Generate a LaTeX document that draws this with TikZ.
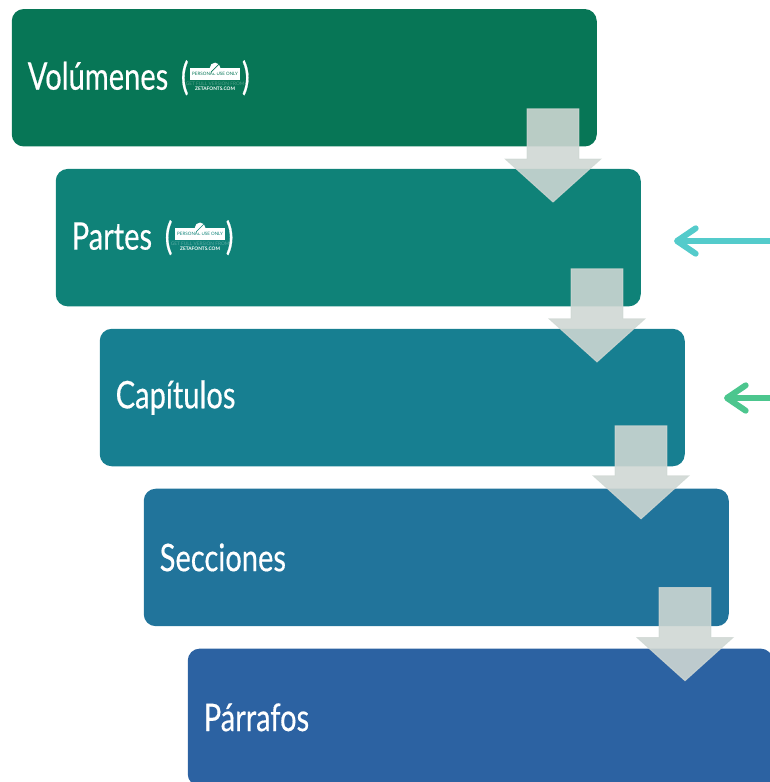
\documentclass[tikz,border=0pt]{standalone}
\usepackage{fontspec}
\setmainfont[FakeStretch=0.765,FakeBold=0.4]{Lato}
\newfontfamily\markfont{Lato}
\usetikzlibrary{positioning}
\usetikzlibrary{shapes.arrows}
\usetikzlibrary{arrows.meta}
\definecolor{volcolor}{RGB}{7,118,86}
\definecolor{parcolor}{RGB}{15,130,120}
\definecolor{capcolor}{RGB}{23,127,145}
\definecolor{seccolor}{RGB}{33,116,155}
\definecolor{prfcolor}{RGB}{44,98,162}
\definecolor{flowcolor}{RGB}{207,215,211}
\definecolor{cyancolor}{RGB}{84,203,203}
\definecolor{greencolor}{RGB}{76,198,142}
\tikzset{stepbox/.style={rectangle,rounded corners=9pt,minimum width=438.75pt,minimum height=103.1pt,inner sep=0pt,
    text width=414.75pt,align=left,text=white,font=\fontsize{28.5}{30}\selectfont},
  flowarrow/.style={single arrow,shape border rotate=270,fill=flowcolor,draw=flowcolor,fill opacity=0.89,draw opacity=0.8,
    line width=0.75pt,minimum width=71.5pt,minimum height=69.75pt,inner xsep=19pt,inner ysep=0pt,single arrow head extend=16.4pt,
    single arrow tip angle=96,anchor=tip},
  sidearrow/.style={line width=4.5pt,-{Straight Barb[length=14pt,width=19pt,round]}},
  markband/.style={fill=white,minimum width=38pt,minimum height=9pt,inner sep=0pt,anchor=north west,
    font=\markfont\fontsize{3.4}{4}\selectfont},
  markline/.style={inner sep=0pt,font=\markfont\fontsize{3.6}{4}\selectfont},
}
\newcommand{\zetamark}[3]{
  \node[markband,text=#3] (#1band) at (#2) {PERSONAL USE ONLY};
  \node[circle,fill=white,minimum size=8pt,inner sep=0pt] (#1sign) at (#1band.north) {};
  \draw[#3,line width=0.5pt] (#1sign.south west) -- (#1sign.north east);
  \node[markline,text=white!30!#3,below = 1.3 of #1band] (#1get) {GET FULL VERSION FROM};
  \node[markline,text=white,below = 0.6 of #1get] (#1zeta) {\bfseries ZETAFONTS.COM};
}

\begin{document}
\begin{tikzpicture}[x=0.75pt,y=0.75pt]
  \useasboundingbox (0,0) rectangle (770,-782);
  \clip (0,0) rectangle (770,-782);
  \node[stepbox,fill=volcolor] (vol) at (304.25,-77.75) {Volúmenes (\hspace{40pt})};
  \node[stepbox,fill=parcolor] (par) [below = 21.9 of vol,xshift=33pt] {Partes (\hspace{40pt})};
  \node[stepbox,fill=capcolor] (cap) [below = 21.9 of par,xshift=33pt] {Capítulos};
  \node[stepbox,fill=seccolor] (sec) [below = 21.9 of cap,xshift=33pt] {Secciones};
  \node[stepbox,fill=prfcolor] (prf) [below = 21.9 of sec,xshift=33pt] {Párrafos};

  \coordinate (volmark) at ([shift={(178,9.75)}]vol.west);
  \coordinate (parmark) at ([shift={(119,9.75)}]par.west);
  \zetamark{vol}{volmark}{volcolor}
  \zetamark{par}{parmark}{parcolor}

  \node[flowarrow] (flow1) at ([shift={(-88,-34)}]par.north east) {};
  \node[flowarrow] (flow2) at ([shift={(-88,-34)}]cap.north east) {};
  \node[flowarrow] (flow3) at ([shift={(-88,-31)}]sec.north east) {};
  \node[flowarrow] (flow4) at ([shift={(-88,-33)}]prf.north east) {};

  \coordinate (cyanstart) at (772,-241);
  \coordinate (cyanend) at (674,-241);
  \coordinate (greenstart) at (772,-398);
  \coordinate (greenend) at (724,-398);
  \draw[sidearrow,cyancolor] (cyanstart) -- (cyanend);
  \draw[sidearrow,greencolor] (greenstart) -- (greenend);
\end{tikzpicture}
\end{document}
